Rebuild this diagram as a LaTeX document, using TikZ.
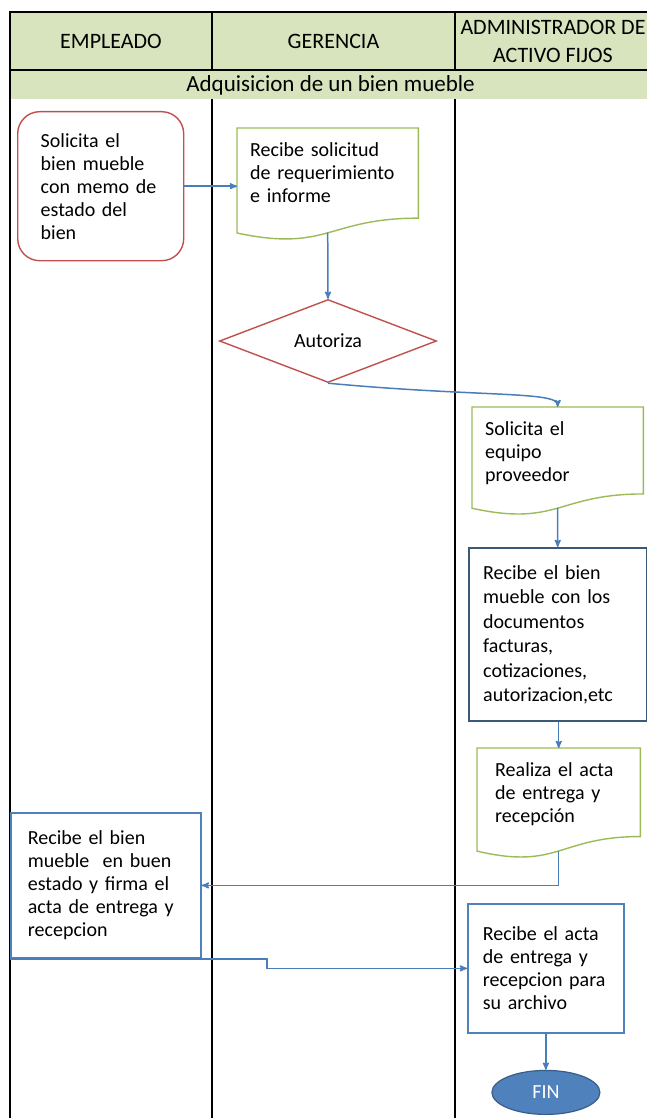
\documentclass[tikz,border=0pt]{standalone}
\usepackage{fontspec}
\setmainfont{Carlito}
\usetikzlibrary{arrows,positioning,shapes,calc}
\definecolor{hdrgreen}{HTML}{D7E4BD}
\definecolor{redline}{HTML}{C0504D}
\definecolor{greenline}{HTML}{9BBB59}
\definecolor{blueline}{HTML}{4F81BD}
\definecolor{darkblue}{HTML}{385D8A}
\definecolor{boxdark}{HTML}{3A5A78}
\definecolor{flecha}{HTML}{4A7EBB}
\newcommand{\txtcaja}{\fontsize{20}{23}\selectfont}
\tikzset{
    %Define standard arrow tip
    >=stealth',
    thick,
    encab/.style={
      rectangle,
      draw=black, line width=1.8pt,
      fill=hdrgreen,
      outer sep=0pt, inner sep=0pt,
      font=\fontsize{22}{28}\selectfont,
      align=center},
    titulo/.style={
      rectangle,
      fill=hdrgreen,
      outer sep=0pt, inner sep=0pt,
      font=\fontsize{23}{27}\selectfont},
    carril/.style={
      draw=black, line width=1.8pt},
    inicio/.style={
      rectangle,
      rounded corners=22pt,
      draw=redline, line width=1.4pt,
      fill=white,
      anchor=north west,
      font=\txtcaja,
      align=left},
    docu/.style={
      rectangle,
      anchor=north west,
      inner ysep=6pt,
      text height=22pt,
      font=\txtcaja,
      align=left},
    doclinea/.style={
      draw=greenline, line width=1.4pt},
    proceso/.style={
      rectangle,
      draw=blueline, line width=1.8pt,
      fill=white,
      anchor=north west,
      font=\txtcaja,
      align=left},
    decision/.style={
      diamond,
      draw=redline, line width=1.4pt,
      fill=white,
      inner sep=0pt,
      font=\txtcaja},
    fin/.style={
      ellipse,
      draw=darkblue, line width=1.2pt,
      fill=blueline,
      text=white,
      font=\txtcaja},
    flujo/.style={
      ->, draw=flecha, line width=1.5pt},
}

\begin{document}
\begin{tikzpicture}[x=1pt, y=-1pt]
    \useasboundingbox (0,0) rectangle (647,1118);

    % encabezado
    \node (hemp) [encab, minimum width=202, minimum height=58] at (111,41)
          {EMPLEADO};
    \node (tit) [titulo, minimum width=641, minimum height=28, anchor=north west]
          at ([yshift=-0.9pt]hemp.south west)
          {Adquisicion de un bien mueble};
    \node (hger) [encab, minimum width=243, minimum height=58] [right=0pt of hemp]
          {GERENCIA};
    \node (hadm) [encab, minimum width=196, minimum height=58] [right=0pt of hger]
          {ADMINISTRADOR DE\\ACTIVO FIJOS};

    % carriles
    \draw[carril] (hemp.south west) -- ++(0,1060);
    \draw[carril] (tit.south -| hger.west) -- ++(0,1040);
    \draw[carril] (tit.south -| hadm.west) -- ++(0,1040);

    % pasos
    \node (solic) [inicio, minimum width=166, minimum height=149, text width=120]
          at (17,111)
          {Solicita el\\bien mueble\\con memo de\\estado del\\bien};
    \node (recsol) [docu, minimum width=181, text width=155, text depth=78pt]
          at (237,128)
          {Recibe solicitud\\de requerimiento\\e informe};
    \node (aut) [decision, minimum width=217, minimum height=83] at (328,341)
          {Autoriza};
    \node (equipo) [docu, minimum width=171, text width=145, text depth=74pt]
          at (472,407)
          {Solicita el\\equipo\\proveedor};
    \node (recbien) [proceso, minimum width=178, minimum height=173, text width=150,
          draw=boxdark, line width=2.4pt, font=\fontsize{20}{24.5}\selectfont]
          at (468,547)
          {Recibe el bien\\mueble con los\\documentos\\facturas,\\cotizaciones,\\autorizacion,etc};
    \node (acta) [docu, minimum width=163, text width=127, text depth=76pt]
          at (477,748)
          {Realiza el acta\\de entrega y\\recepción};
    \node (recest) [proceso, minimum width=190, minimum height=145, text width=156]
          at (10,812)
          {Recibe el bien\\mueble \ en buen\\estado y firma el\\acta de entrega y\\recepcion};
    \node (archivo) [proceso, minimum width=156, minimum height=129, text width=126]
          at (467,903)
          {Recibe el acta\\de entrega y\\recepcion para\\su archivo};
    \node (fin) [fin, minimum width=108, minimum height=44] [below=36pt of archivo]
          {FIN};

    % contorno de documento
    \foreach \d in {recsol,equipo,acta}
      \draw[doclinea] (\d.north west) -- (\d.north east)
          -- ($(\d.north east)!0.802!(\d.south east)$)
          .. controls ($(\d.north)!0.802!(\d.south)$) and ($(\d.north)!1.107!(\d.south)$)
          .. ($(\d.north west)!0.934!(\d.south west)$) -- cycle;

    % flujo
    \draw[flujo] (solic.east) -- (solic.east -| recsol.west);
    \draw[flujo] ($(recsol.north)!0.93!(recsol.south)$) -- (aut.north);
    \draw[flujo] (aut.south) .. controls +(150,14) and +(0,-16) .. (equipo.north);
    \draw[flujo] ($(equipo.north)!0.93!(equipo.south)$) -- (recbien.north -| equipo.north);
    \draw[flujo] (recbien.south -| acta.north) -- (acta.north);
    \draw[flujo] ($(acta.north)!0.93!(acta.south)$) |- (recest.east);
    \draw[flujo] (recest.south west) -- ++(257,0) |- (archivo.west);
    \draw[flujo] (archivo.south) -- (fin.north);
\end{tikzpicture}
\end{document}
